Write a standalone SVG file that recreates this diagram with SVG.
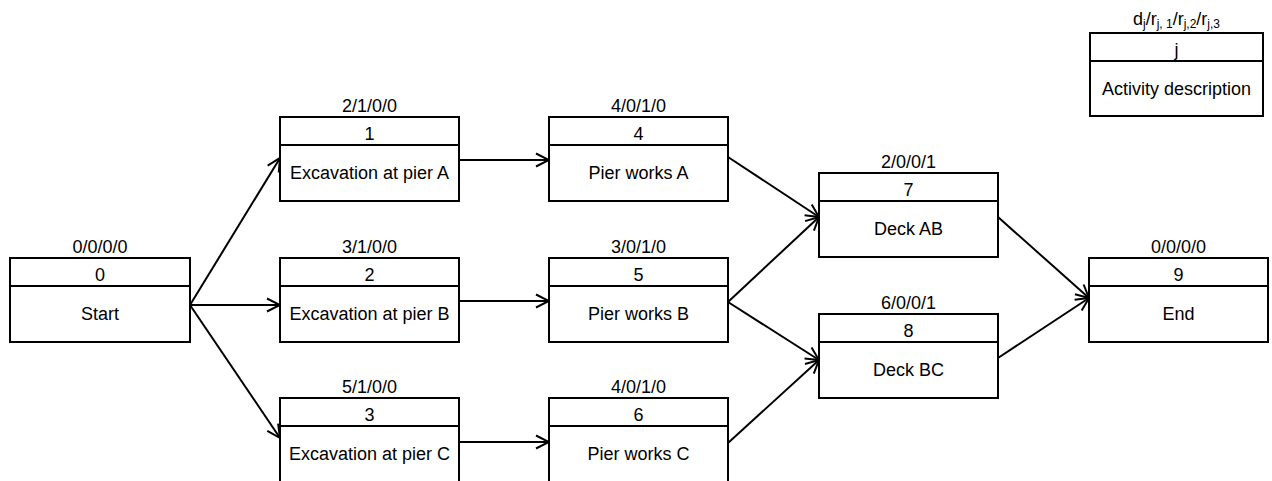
<svg xmlns="http://www.w3.org/2000/svg" width="1272" height="481" viewBox="0 0 1272 481">
<style>
.box{fill:#fff;stroke:#000;stroke-width:2}
.div{stroke:#000;stroke-width:2}
text{font-family:"Liberation Sans",Arial,sans-serif;font-size:18px;fill:#000;text-anchor:middle}
.sub{font-size:12px}
.conn line{stroke:#000;stroke-width:2;marker-end:url(#arr)}
</style>
<defs>
<marker id="arr" markerUnits="userSpaceOnUse" markerWidth="16" markerHeight="16" viewBox="0 0 16 16" refX="14" refY="8" orient="auto">
<path d="M1,1.5 L14,8 L1,14.5" fill="none" stroke="#000" stroke-width="2"/>
</marker>
</defs>
<rect width="1272" height="481" fill="#fff"/>
<g class="conn" id="connectors">
<line x1="190" y1="305" x2="280" y2="158"/>
<line x1="190" y1="305" x2="280" y2="305"/>
<line x1="190" y1="305" x2="280" y2="438"/>
<line x1="459" y1="160" x2="549" y2="160"/>
<line x1="459" y1="301" x2="549" y2="301"/>
<line x1="459" y1="442" x2="549" y2="442"/>
<line x1="728" y1="157" x2="819" y2="217"/>
<line x1="728" y1="302" x2="819" y2="217"/>
<line x1="728" y1="302" x2="819" y2="360"/>
<line x1="728" y1="443" x2="819" y2="360"/>
<line x1="998" y1="217" x2="1089" y2="298"/>
<line x1="998" y1="358" x2="1089" y2="298"/>
</g>
<g id="node0">
<text x="100" y="253">0/0/0/0</text>
<rect class="box" x="10" y="258" width="180" height="84"/>
<line class="div" x1="10" y1="286" x2="190" y2="286"/>
<text x="100" y="281">0</text>
<text x="100" y="320">Start</text>
</g>
<g id="node1">
<text x="369.5" y="112">2/1/0/0</text>
<rect class="box" x="280" y="117" width="179" height="84"/>
<line class="div" x1="280" y1="145" x2="459" y2="145"/>
<text x="369.5" y="140">1</text>
<text x="369.5" y="179">Excavation at pier A</text>
</g>
<g id="node2">
<text x="369.5" y="253">3/1/0/0</text>
<rect class="box" x="280" y="258" width="179" height="84"/>
<line class="div" x1="280" y1="286" x2="459" y2="286"/>
<text x="369.5" y="281">2</text>
<text x="369.5" y="320">Excavation at pier B</text>
</g>
<g id="node3">
<text x="369.5" y="393">5/1/0/0</text>
<rect class="box" x="280" y="398" width="179" height="84"/>
<line class="div" x1="280" y1="426" x2="459" y2="426"/>
<text x="369.5" y="421">3</text>
<text x="369.5" y="460">Excavation at pier C</text>
</g>
<g id="node4">
<text x="638.5" y="112">4/0/1/0</text>
<rect class="box" x="549" y="117" width="179" height="84"/>
<line class="div" x1="549" y1="145" x2="728" y2="145"/>
<text x="638.5" y="140">4</text>
<text x="638.5" y="179">Pier works A</text>
</g>
<g id="node5">
<text x="638.5" y="253">3/0/1/0</text>
<rect class="box" x="549" y="258" width="179" height="84"/>
<line class="div" x1="549" y1="286" x2="728" y2="286"/>
<text x="638.5" y="281">5</text>
<text x="638.5" y="320">Pier works B</text>
</g>
<g id="node6">
<text x="638.5" y="393">4/0/1/0</text>
<rect class="box" x="549" y="398" width="179" height="84"/>
<line class="div" x1="549" y1="426" x2="728" y2="426"/>
<text x="638.5" y="421">6</text>
<text x="638.5" y="460">Pier works C</text>
</g>
<g id="node7">
<text x="908.5" y="168">2/0/0/1</text>
<rect class="box" x="819" y="173" width="179" height="84"/>
<line class="div" x1="819" y1="201" x2="998" y2="201"/>
<text x="908.5" y="196">7</text>
<text x="908.5" y="235">Deck AB</text>
</g>
<g id="node8">
<text x="908.5" y="309">6/0/0/1</text>
<rect class="box" x="819" y="314" width="179" height="84"/>
<line class="div" x1="819" y1="342" x2="998" y2="342"/>
<text x="908.5" y="337">8</text>
<text x="908.5" y="376">Deck BC</text>
</g>
<g id="node9">
<text x="1178.5" y="253">0/0/0/0</text>
<rect class="box" x="1089" y="258" width="179" height="84"/>
<line class="div" x1="1089" y1="286" x2="1268" y2="286"/>
<text x="1178.5" y="281">9</text>
<text x="1178.5" y="320">End</text>
</g>
<g id="legend">
<text x="1176.5" y="25">d<tspan class="sub" dy="3">j</tspan><tspan dy="-3">/r</tspan><tspan class="sub" dy="3">j, 1</tspan><tspan dy="-3">/r</tspan><tspan class="sub" dy="3">j,2</tspan><tspan dy="-3">/r</tspan><tspan class="sub" dy="3">j,3</tspan></text>
<rect class="box" x="1090" y="33" width="173" height="83"/>
<line class="div" x1="1090" y1="61" x2="1263" y2="61"/>
<text x="1176.5" y="56">j</text>
<text x="1176.5" y="95">Activity description</text>
</g>
</svg>
